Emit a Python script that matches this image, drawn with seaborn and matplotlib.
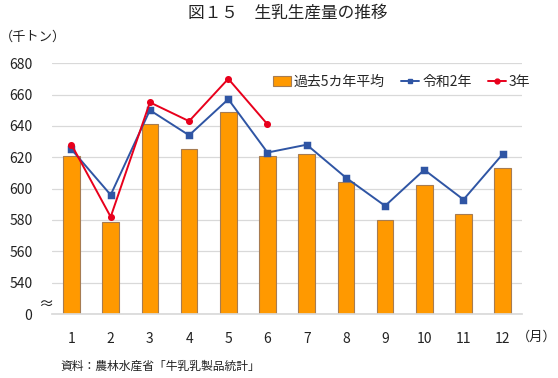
import matplotlib
matplotlib.use("Agg")
import matplotlib.pyplot as plt
import seaborn as sns
import pandas as pd
from matplotlib.patches import Patch
from matplotlib.lines import Line2D

months = ["1", "2", "3", "4", "5", "6", "7", "8", "9", "10", "11", "12"]
avg5 = [621, 579, 641, 625, 649, 621, 622, 604, 580, 602, 584, 613]
reiwa2 = [625, 596, 650, 634, 657, 623, 628, 607, 589, 612, 593, 622]
reiwa3 = [628, 582, 655, 643, 670, 641]

yticks = [520, 540, 560, 580, 600, 620, 640, 660, 680]
ylabels = ["0", "540", "560", "580", "600", "620", "640", "660", "680"]

sns.set_theme(style="white")
plt.rcParams["font.family"] = ["Noto Sans CJK JP", "DejaVu Sans"]

orange = "#FF9900"
blue = "#2F55A4"
red = "#E8001C"

fig = plt.figure(figsize=(5.58, 3.78), dpi=100)
ax = fig.add_axes([0.093, 0.169, 0.843, 0.664])

df = pd.DataFrame({"month": months, "avg": avg5, "r2": reiwa2})
df3 = pd.DataFrame({"month": months[:6], "r3": reiwa3})

sns.barplot(data=df, x="month", y="avg", order=months, color=orange,
            width=0.42, edgecolor="#A67C52", linewidth=0.8, saturation=1, ax=ax, zorder=2)
sns.pointplot(data=df, x="month", y="r2", order=months, color=blue, marker="s",
              markersize=3.8, linewidth=1.4, ax=ax, zorder=3)
sns.pointplot(data=df3, x="month", y="r3", order=months, color=red, marker="o",
              markersize=4, linewidth=1.4, ax=ax, zorder=4)

ax.set_ylim(520, 680)
ax.set_xlim(-0.5, 11.5)
ax.set_yticks(yticks)
ax.set_yticklabels(ylabels)
ax.yaxis.grid(True, color="#D9D9D9", linewidth=0.9, zorder=0)
ax.set_axisbelow(True)
for s in ["top", "right", "left"]:
    ax.spines[s].set_visible(False)
ax.spines["bottom"].set_color("#D9D9D9")
ax.tick_params(axis="both", length=0, labelsize=10, colors="#222222")
ax.tick_params(axis="y", pad=14)
ax.tick_params(axis="x", pad=13)
ax.set_xlabel("")
ax.set_ylabel("")

fig.text(0.515, 0.965, "図１５　生乳生産量の推移", ha="center", va="center",
         fontsize=12, color="#222222")
fig.text(0.0, 0.902, "（千トン）", ha="left", va="center", fontsize=9.5, color="#222222")
fig.text(0.082, 0.195, "≈", ha="center", va="center", fontsize=11, color="#222222")
fig.text(0.997, 0.108, "（月）", ha="right", va="center", fontsize=9.5, color="#222222")
fig.text(0.108, 0.03, "資料：農林水産省「牛乳乳製品統計」", ha="left", va="center",
         fontsize=8.5, color="#222222")

handles = [
    Patch(facecolor=orange, edgecolor="#A67C52", linewidth=0.8),
    Line2D([], [], color=blue, marker="s", markersize=3.5, linewidth=1.4),
    Line2D([], [], color=red, marker="o", markersize=3.5, linewidth=1.4),
]
fig.legend(handles, ["過去5カ年平均", "令和2年", "3年"], loc="center",
           bbox_to_anchor=(0.72, 0.783), ncol=3, frameon=False, fontsize=10,
           handlelength=1.3, handletextpad=0.2, columnspacing=1.2)

fig.savefig("out.png", dpi=100)
